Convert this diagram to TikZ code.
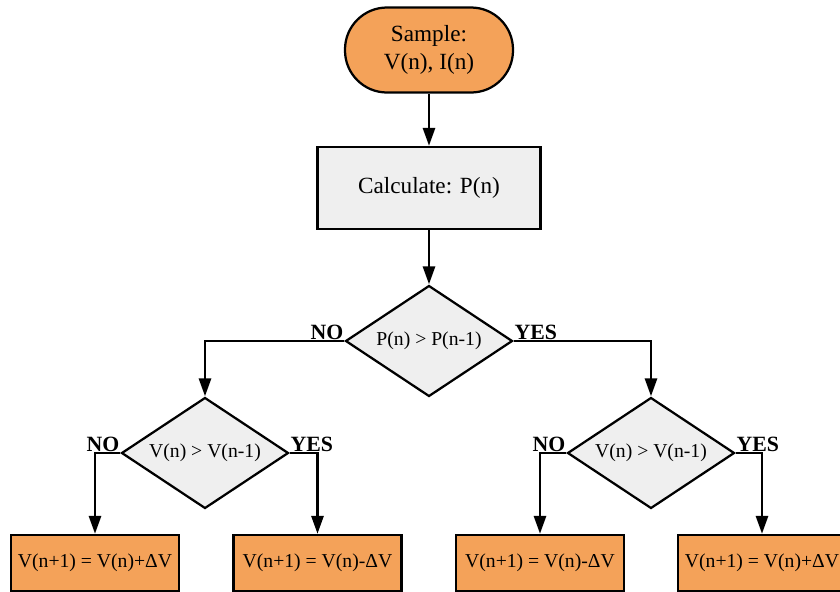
\documentclass[tikz,border=0pt]{standalone}
\usepackage{fontspec}
\setmainfont{Liberation Serif}
\usetikzlibrary{shapes.geometric,arrows.meta}
\definecolor{boxorange}{HTML}{F4A259}
\definecolor{boxgrey}{HTML}{EFEFEF}

\begin{document}
\begin{tikzpicture}[
  every node/.style={font=\fontsize{14}{16}\selectfont},
  terminal/.style={draw, line width=1.6pt, fill=boxorange, rounded corners=1.05cm, minimum width=4.2cm, minimum height=2.125cm, align=center, font=\fontsize{16.5}{20}\selectfont},
  process/.style={draw, line width=1.6pt, fill=boxgrey, minimum width=5.575cm, minimum height=2.05cm, font=\fontsize{16.5}{20}\selectfont},
  decision/.style={draw, diamond, shape aspect=1.5, line width=1.6pt, fill=boxgrey, inner sep=0pt, minimum width=4.175cm, minimum height=2.775cm},
  update/.style={draw, line width=1.6pt, fill=boxorange, minimum width=4.2cm, minimum height=1.4cm},
  lbl/.style={font=\bfseries\fontsize{15.5}{18}\selectfont, inner sep=0.5pt},
  arr/.style={line width=2pt, -{Triangle[length=0.45cm,width=0.3cm]}}
]
\useasboundingbox (0,0) rectangle (21,-14.8);

\node[terminal] (start) at (10.725,-1.25) {Sample:\\V(n), I(n)};
\node[process] (calc) at (10.725,-4.7) {Calculate: P(n)};
\node[decision] (dp) at (10.725,-8.525) {P(n) > P(n-1)};
\node[decision] (dvl) at (5.125,-11.325) {V(n) > V(n-1)};
\node[decision] (dvr) at (16.275,-11.325) {V(n) > V(n-1)};

\foreach \name/\x/\txt in {b1/2.375/{V(n+1) = V(n)+ΔV},b2/7.9375/{V(n+1) = V(n)-ΔV},b3/13.5/{V(n+1) = V(n)-ΔV},b4/19.05/{V(n+1) = V(n)+ΔV}} \node[update] (\name) at (\x,-14.075) {\txt};

\draw[arr] (start) -- (calc);
\draw[arr] (calc) -- (dp);
\draw[arr] (dp.west) -| (dvl.north);
\draw[arr] (dp.east) -| (dvr.north);
\draw[arr] (dvl.west) -| (b1.north);
\draw[arr] (dvl.east) -| (b2.north);
\draw[arr] (dvr.west) -| (b3.north);
\draw[arr] (dvr.east) -| (b4.north);

\node[lbl, anchor=south east] (nop) at (dp.west) {NO};
\node[lbl, anchor=south west] (yesp) at (dp.east) {YES};
\node[lbl, anchor=south east] (nol) at (dvl.west) {NO};
\node[lbl, anchor=south west] (yesl) at (dvl.east) {YES};
\node[lbl, anchor=south east] (nor) at (dvr.west) {NO};
\node[lbl, anchor=south west] (yesr) at (dvr.east) {YES};

\end{tikzpicture}
\end{document}
